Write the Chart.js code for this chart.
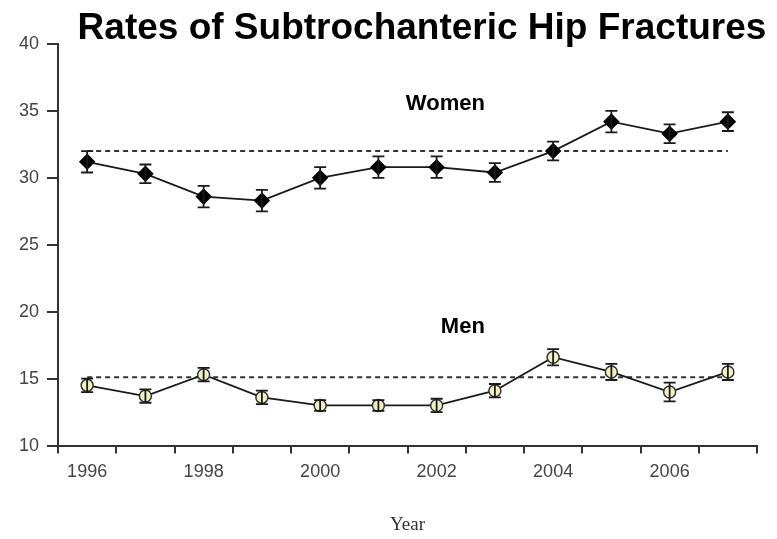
<!DOCTYPE html>
<html>
<head>
<meta charset="utf-8">
<script src="https://cdn.jsdelivr.net/npm/chart.js@4.4.0/dist/chart.umd.min.js"></script>
<style>
    html, body { margin: 0; padding: 0; background: #fff; }
    #wrap { width: 777px; height: 539px; }
</style>
</head>
<body>
<div id="wrap"><canvas id="hip-chart"></canvas></div>
<script>
    "use strict";

    // Data
    var years = ["1996", "1997", "1998", "1999", "2000", "2001", "2002", "2003", "2004", "2005", "2006", "2007"];
    var women = [31.2, 30.3, 28.6, 28.3, 30.0, 30.8, 30.8, 30.4, 32.0, 34.2, 33.3, 34.2];
    var womenErr = [0.8, 0.7, 0.8, 0.8, 0.8, 0.8, 0.8, 0.7, 0.7, 0.8, 0.7, 0.7];
    var men = [14.5, 13.7, 15.3, 13.6, 13.0, 13.0, 13.0, 14.1, 16.6, 15.5, 14.0, 15.5];
    var menErr = [0.5, 0.5, 0.5, 0.5, 0.4, 0.4, 0.5, 0.5, 0.6, 0.6, 0.7, 0.6];
    var womenRef = [32, 32, 32, 32, 32, 32, 32, 32, 32, 32, 32, 32];
    var menRef = [15.1, 15.1, 15.1, 15.1, 15.1, 15.1, 15.1, 15.1, 15.1, 15.1, 15.1, 15.1];
    var yMin = 10, yMax = 40, yStep = 5;

    var ink = "#1a1a1a";

    // Error bars
    var errorBars = {
        id: "errorBars",
        afterDatasetsDraw: function (chart) {
            var ctx = chart.ctx;
            var xs = chart.scales.x, ys = chart.scales.y;
            var sets = [[women, womenErr], [men, menErr]];
            ctx.save();
            ctx.strokeStyle = ink;
            ctx.lineWidth = 1.8;
            sets.forEach(function (s) {
                s[0].forEach(function (v, i) {
                    var x = xs.getPixelForValue(i);
                    var top = ys.getPixelForValue(v + s[1][i]);
                    var bot = ys.getPixelForValue(v - s[1][i]);
                    ctx.beginPath();
                    ctx.moveTo(x, top); ctx.lineTo(x, bot);
                    ctx.moveTo(x - 6, top); ctx.lineTo(x + 6, top);
                    ctx.moveTo(x - 6, bot); ctx.lineTo(x + 6, bot);
                    ctx.stroke();
                });
            });
            ctx.restore();
        }
    };

    // Title and series labels
    var labels = {
        id: "labels",
        afterDraw: function (chart) {
            var ctx = chart.ctx;
            var xs = chart.scales.x, ys = chart.scales.y;
            ctx.save();
            ctx.fillStyle = "#000";
            ctx.textAlign = "center";
            ctx.textBaseline = "middle";
            ctx.font = "bold 37px 'Liberation Sans', Arial, sans-serif";
            ctx.fillText("Rates of Subtrochanteric Hip Fractures", 422, 29);
            ctx.font = "bold 22px 'Liberation Sans', Arial, sans-serif";
            ctx.fillText("Women", xs.getPixelForValue(6.15), ys.getPixelForValue(35.5));
            ctx.fillText("Men", xs.getPixelForValue(6.45), ys.getPixelForValue(18.9));
            ctx.restore();
        }
    };

    var ctx1 = document.getElementById("hip-chart").getContext("2d");
    var myChart1 = new Chart(ctx1, {
        type: "line",
        data: {
            labels: years,
            datasets: [
                {
                    label: "Women",
                    data: women,
                    borderColor: ink,
                    borderWidth: 1.8,
                    pointStyle: "rectRot",
                    pointRadius: 7,
                    pointBackgroundColor: "#000",
                    pointBorderColor: "#000",
                    tension: 0
                },
                {
                    label: "Men",
                    data: men,
                    borderColor: ink,
                    borderWidth: 1.8,
                    pointStyle: "circle",
                    pointRadius: 6,
                    pointBorderWidth: 1.5,
                    pointBackgroundColor: "#f1f1c2",
                    pointBorderColor: "#333",
                    tension: 0
                },
                {
                    label: "Women mean",
                    data: womenRef,
                    borderColor: "#333",
                    borderWidth: 2,
                    borderDash: [5, 4],
                    pointRadius: 0
                },
                {
                    label: "Men mean",
                    data: menRef,
                    borderColor: "#333",
                    borderWidth: 2,
                    borderDash: [5, 4],
                    pointRadius: 0
                }
            ]
        },
        options: {
            responsive: true,
            maintainAspectRatio: false,
            animation: false,
            layout: { padding: { top: 44, right: 20, left: 11, bottom: 3 } },
            plugins: {
                legend: { display: false },
                tooltip: { enabled: false }
            },
            scales: {
                x: {
                    type: "category",
                    offset: true,
                    grid: {
                        offset: true,
                        drawOnChartArea: false,
                        drawTicks: true,
                        tickLength: 8,
                        color: "#333",
                        lineWidth: 2
                    },
                    border: { display: true, color: "#333", width: 2 },
                    ticks: {
                        autoSkip: false,
                        maxRotation: 0,
                        padding: 8,
                        color: "#444",
                        font: { family: "'Liberation Sans', Arial, sans-serif", size: 18 },
                        callback: function (val, i) {
                            return i % 2 === 0 ? years[i] : "";
                        }
                    },
                    title: {
                        display: true,
                        text: "Year",
                        color: "#333",
                        padding: { top: 22, bottom: 0 },
                        font: { family: "'Liberation Serif', 'Times New Roman', serif", size: 19 }
                    }
                },
                y: {
                    min: yMin,
                    max: yMax,
                    grid: {
                        drawOnChartArea: false,
                        drawTicks: true,
                        tickLength: 11,
                        color: "#333",
                        lineWidth: 2
                    },
                    border: { display: true, color: "#333", width: 2 },
                    ticks: {
                        stepSize: yStep,
                        padding: 8,
                        color: "#444",
                        font: { family: "'Liberation Sans', Arial, sans-serif", size: 18 }
                    }
                }
            }
        },
        plugins: [errorBars, labels]
    });
</script>
</body>
</html>
